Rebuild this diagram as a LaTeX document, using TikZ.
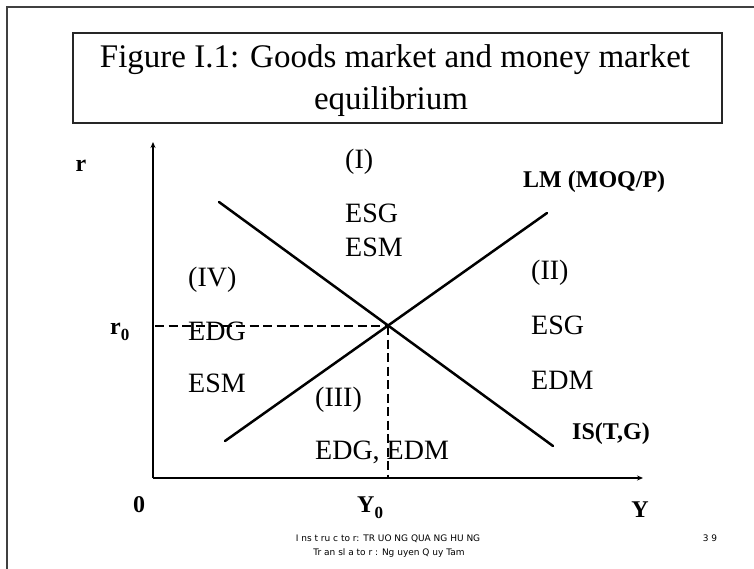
\documentclass[tikz,border=0pt]{standalone}
\usepackage{fontspec}
\setmainfont{Liberation Serif}
\newfontfamily\footfont{DejaVu Sans}
\usetikzlibrary{arrows.meta}
\tikzset{
  frameline/.style={draw=black!75, line width=1.6pt},
  boxline/.style={draw=black!85, line width=1.3pt},
  axisline/.style={line width=1.8pt, -{Stealth[length=6pt,width=5pt]}},
  curve/.style={line width=2.5pt, line cap=round},
  guide/.style={line width=2.1pt, dash pattern=on 9pt off 4.5pt},
  titletext/.style={font=\fontsize{33}{40}\selectfont, inner sep=0pt, anchor=base},
  region/.style={font=\fontsize{28}{32}\selectfont, inner sep=0pt, anchor=west},
  boldlab/.style={font=\fontsize{24}{28}\selectfont\bfseries, inner sep=0pt},
  foot/.style={font=\footfont\fontsize{9}{14}\selectfont, inner sep=0pt, anchor=base},
}
\newcommand{\subz}{\raisebox{-0.6ex}{\fontsize{17}{17}\selectfont 0}}
\begin{document}
\begin{tikzpicture}[x=1pt,y=-1pt]
\useasboundingbox (0,0) rectangle (754,569);
% outer slide frame
\coordinate (fbl) at (7,580);
\coordinate (ftl) at (7,7);
\coordinate (ftr) at (760,7);
\draw[frameline] (fbl) -- (ftl) -- (ftr);
% title box
\node[boxline, minimum width=649pt, minimum height=90pt, inner sep=0pt] (titlebox) at (397.5,78) {};
\node[titletext] (title1) at (395,68) {Figure I.1: Goods market and money market};
\node[titletext] (title2) at (391,110) {equilibrium};
% axes
\coordinate (O) at (153,478);
\coordinate (ytop) at (153,142);
\coordinate (xend) at (643,478);
\draw[axisline] (O) -- (ytop);
\draw[axisline, line width=2.6pt] (O) -- (xend);
% curves
\coordinate (ISa) at (219,202);
\coordinate (ISb) at (553,446);
\coordinate (LMa) at (225,441);
\coordinate (LMb) at (547,213);
\coordinate (E) at (388,326);
\coordinate (Ey) at (155,326);
\coordinate (Ex) at (388,478);
\draw[curve] (ISa) -- (ISb);
\draw[curve] (LMa) -- (LMb);
\draw[guide] (Ey) -- (E);
\draw[guide] (E) -- (Ex);
% region labels
\node[region] (r1) at (345,162) {(I)};
\node[region] (r1a) at (345,213) {ESG};
\node[region] (r1b) at (345,247) {ESM};
\node[region] (r2) at (531,273) {(II)};
\node[region] (r2a) at (531,325) {ESG};
\node[region] (r2b) at (531,380) {EDM};
\node[region] (r3) at (315,400) {(III)};
\node[region] (r3a) at (315,452) {EDG, EDM};
\node[region] (r4) at (188,280) {(IV)};
\node[region] (r4a) at (188,331) {EDG};
\node[region] (r4b) at (188,383) {ESM};
% curve and axis labels
\node[boldlab, anchor=west] (lmlab) at (523,182) {LM (MOQ/P)};
\node[boldlab, anchor=west] (islab) at (572,434) {IS(T,G)};
\node[boldlab] (rlab) at (81,166) {r};
\node[boldlab, anchor=base west] (r0lab) at (110,334) {r\subz};
\node[boldlab] (zlab) at (139,505) {0};
\node[boldlab, anchor=base west] (y0lab) at (357,512) {Y\subz};
\node[boldlab] (ylab) at (640,510) {Y};
% footer
\node[foot] (foot1) at (388,541) {I ns t ru c to r: TR UO NG QUA NG HU NG};
\node[foot] (foot2) at (389,555) {Tr an sl a to r : Ng uyen Q uy Tam};
\node[foot] (pnum) at (710,541) {3 9};
\end{tikzpicture}
\end{document}
